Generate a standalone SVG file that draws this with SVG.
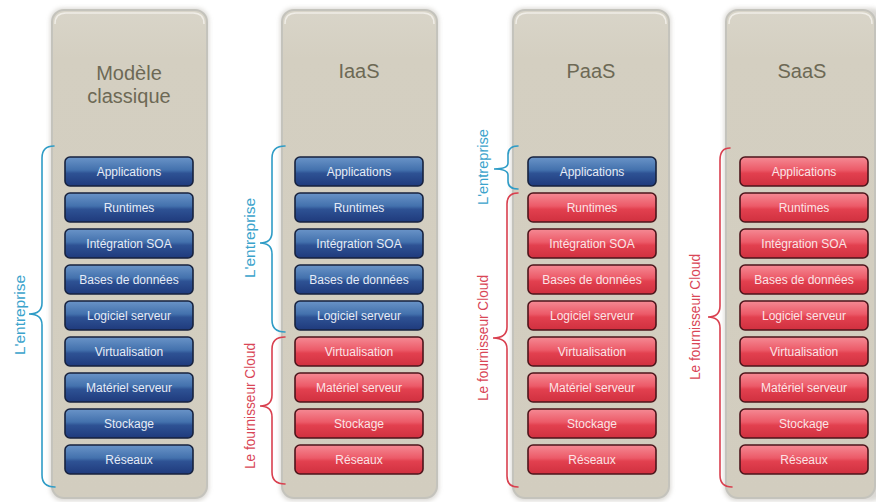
<svg xmlns="http://www.w3.org/2000/svg" xmlns:xlink="http://www.w3.org/1999/xlink" width="876" height="502" viewBox="0 0 876 502">
  <defs>
    <linearGradient id="gBlue" x1="0" y1="0" x2="0" y2="1">
      <stop offset="0" stop-color="#6a94c8"/>
      <stop offset="0.45" stop-color="#4371ad"/>
      <stop offset="0.56" stop-color="#2e5294"/>
      <stop offset="1" stop-color="#1f3a7c"/>
    </linearGradient>
    <linearGradient id="gRed" x1="0" y1="0" x2="0" y2="1">
      <stop offset="0" stop-color="#f58a94"/>
      <stop offset="0.45" stop-color="#ec5a68"/>
      <stop offset="0.56" stop-color="#e2404f"/>
      <stop offset="1" stop-color="#d0303f"/>
    </linearGradient>
    <linearGradient id="gPanel" x1="0" y1="0" x2="0" y2="1">
      <stop offset="0" stop-color="#d9d5c9"/>
      <stop offset="0.1" stop-color="#d4cfc1"/>
      <stop offset="1" stop-color="#d2cdbf"/>
    </linearGradient>
    <filter id="soft" x="-10%" y="-5%" width="120%" height="110%">
      <feGaussianBlur stdDeviation="2"/>
    </filter>
    <rect id="boxBlue" width="128" height="29" rx="5" fill="url(#gBlue)" stroke="#17223e" stroke-width="1.6"/>
    <rect id="boxRed" width="128" height="29" rx="5" fill="url(#gRed)" stroke="#4c151b" stroke-width="1.6"/>
  </defs>
  <style>
    .panel { fill: url(#gPanel); stroke: #c4c3bc; stroke-width: 2; }
    .shadow { fill: #bdbab2; opacity: 0.55; filter: url(#soft); }
    .rim { fill: none; stroke: #f2f0ea; stroke-width: 1.5; opacity: 0.9; }
    .head { font-family: "Liberation Sans", Arial, sans-serif; font-size: 20px; fill: #6d6955; text-anchor: middle; }
    .lbl { font-family: "Liberation Sans", Arial, sans-serif; font-size: 12px; text-anchor: middle; }
    .b .lbl { fill: #e6ecf6; }
    .r .lbl { fill: #fbe4e6; }
    .brace { fill: none; stroke-width: 1.6; stroke-linecap: round; }
    .bb { stroke: #2f9cc6; }
    .br { stroke: #d9404f; }
    .side { font-family: "Liberation Sans", Arial, sans-serif; font-size: 14px; text-anchor: middle; }
    .sb { fill: #3aa3cc; }
    .sr { fill: #d94656; }
  </style>

  <rect width="876" height="502" fill="#ffffff"/>

  <!-- column panels -->
  <g id="panels">
    <rect class="shadow" x="50" y="8" width="159" height="493" rx="13"/>
    <rect class="shadow" x="280" y="8" width="159" height="493" rx="13"/>
    <rect class="shadow" x="511" y="8" width="160" height="493" rx="13"/>
    <rect class="shadow" x="724" y="8" width="160" height="493" rx="13"/>
    <rect class="panel" x="52" y="10" width="155" height="488" rx="12"/>
    <rect class="panel" x="282" y="10" width="155" height="488" rx="12"/>
    <rect class="panel" x="513" y="10" width="156" height="488" rx="12"/>
    <rect class="panel" x="726" y="10" width="149" height="488" rx="12"/>
    <path class="rim" d="M55,24 Q55,13 66,13 L193,13 Q204,13 204,24"/>
    <path class="rim" d="M285,24 Q285,13 296,13 L423,13 Q434,13 434,24"/>
    <path class="rim" d="M516,24 Q516,13 527,13 L655,13 Q666,13 666,24"/>
    <path class="rim" d="M729,24 Q729,13 740,13 L861,13 Q872,13 872,24"/>
  </g>

  <!-- column headers -->
  <g id="headers">
    <text class="head" x="129" y="80">Modèle</text>
    <text class="head" x="129" y="103">classique</text>
    <text class="head" x="359" y="78">IaaS</text>
    <text class="head" x="591" y="78">PaaS</text>
    <text class="head" x="802" y="78">SaaS</text>
  </g>

  <!-- Modèle classique -->
  <g id="classique">
    <g id="c1-applications" class="b"><use xlink:href="#boxBlue" x="65" y="157"/><text class="lbl" x="129" y="176">Applications</text></g>
    <g id="c1-runtimes" class="b"><use xlink:href="#boxBlue" x="65" y="193"/><text class="lbl" x="129" y="212">Runtimes</text></g>
    <g id="c1-soa" class="b"><use xlink:href="#boxBlue" x="65" y="229"/><text class="lbl" x="129" y="248">Intégration SOA</text></g>
    <g id="c1-bdd" class="b"><use xlink:href="#boxBlue" x="65" y="265"/><text class="lbl" x="129" y="284">Bases de données</text></g>
    <g id="c1-logiciel" class="b"><use xlink:href="#boxBlue" x="65" y="301"/><text class="lbl" x="129" y="320">Logiciel serveur</text></g>
    <g id="c1-virt" class="b"><use xlink:href="#boxBlue" x="65" y="337"/><text class="lbl" x="129" y="356">Virtualisation</text></g>
    <g id="c1-materiel" class="b"><use xlink:href="#boxBlue" x="65" y="373"/><text class="lbl" x="129" y="392">Matériel serveur</text></g>
    <g id="c1-stockage" class="b"><use xlink:href="#boxBlue" x="65" y="409"/><text class="lbl" x="129" y="428">Stockage</text></g>
    <g id="c1-reseaux" class="b"><use xlink:href="#boxBlue" x="65" y="445"/><text class="lbl" x="129" y="464">Réseaux</text></g>
  </g>

  <!-- IaaS -->
  <g id="iaas">
    <g id="c2-applications" class="b"><use xlink:href="#boxBlue" x="295" y="157"/><text class="lbl" x="359" y="176">Applications</text></g>
    <g id="c2-runtimes" class="b"><use xlink:href="#boxBlue" x="295" y="193"/><text class="lbl" x="359" y="212">Runtimes</text></g>
    <g id="c2-soa" class="b"><use xlink:href="#boxBlue" x="295" y="229"/><text class="lbl" x="359" y="248">Intégration SOA</text></g>
    <g id="c2-bdd" class="b"><use xlink:href="#boxBlue" x="295" y="265"/><text class="lbl" x="359" y="284">Bases de données</text></g>
    <g id="c2-logiciel" class="b"><use xlink:href="#boxBlue" x="295" y="301"/><text class="lbl" x="359" y="320">Logiciel serveur</text></g>
    <g id="c2-virt" class="r"><use xlink:href="#boxRed" x="295" y="337"/><text class="lbl" x="359" y="356">Virtualisation</text></g>
    <g id="c2-materiel" class="r"><use xlink:href="#boxRed" x="295" y="373"/><text class="lbl" x="359" y="392">Matériel serveur</text></g>
    <g id="c2-stockage" class="r"><use xlink:href="#boxRed" x="295" y="409"/><text class="lbl" x="359" y="428">Stockage</text></g>
    <g id="c2-reseaux" class="r"><use xlink:href="#boxRed" x="295" y="445"/><text class="lbl" x="359" y="464">Réseaux</text></g>
  </g>

  <!-- PaaS -->
  <g id="paas">
    <g id="c3-applications" class="b"><use xlink:href="#boxBlue" x="528" y="157"/><text class="lbl" x="592" y="176">Applications</text></g>
    <g id="c3-runtimes" class="r"><use xlink:href="#boxRed" x="528" y="193"/><text class="lbl" x="592" y="212">Runtimes</text></g>
    <g id="c3-soa" class="r"><use xlink:href="#boxRed" x="528" y="229"/><text class="lbl" x="592" y="248">Intégration SOA</text></g>
    <g id="c3-bdd" class="r"><use xlink:href="#boxRed" x="528" y="265"/><text class="lbl" x="592" y="284">Bases de données</text></g>
    <g id="c3-logiciel" class="r"><use xlink:href="#boxRed" x="528" y="301"/><text class="lbl" x="592" y="320">Logiciel serveur</text></g>
    <g id="c3-virt" class="r"><use xlink:href="#boxRed" x="528" y="337"/><text class="lbl" x="592" y="356">Virtualisation</text></g>
    <g id="c3-materiel" class="r"><use xlink:href="#boxRed" x="528" y="373"/><text class="lbl" x="592" y="392">Matériel serveur</text></g>
    <g id="c3-stockage" class="r"><use xlink:href="#boxRed" x="528" y="409"/><text class="lbl" x="592" y="428">Stockage</text></g>
    <g id="c3-reseaux" class="r"><use xlink:href="#boxRed" x="528" y="445"/><text class="lbl" x="592" y="464">Réseaux</text></g>
  </g>

  <!-- SaaS -->
  <g id="saas">
    <g id="c4-applications" class="r"><use xlink:href="#boxRed" x="740" y="157"/><text class="lbl" x="804" y="176">Applications</text></g>
    <g id="c4-runtimes" class="r"><use xlink:href="#boxRed" x="740" y="193"/><text class="lbl" x="804" y="212">Runtimes</text></g>
    <g id="c4-soa" class="r"><use xlink:href="#boxRed" x="740" y="229"/><text class="lbl" x="804" y="248">Intégration SOA</text></g>
    <g id="c4-bdd" class="r"><use xlink:href="#boxRed" x="740" y="265"/><text class="lbl" x="804" y="284">Bases de données</text></g>
    <g id="c4-logiciel" class="r"><use xlink:href="#boxRed" x="740" y="301"/><text class="lbl" x="804" y="320">Logiciel serveur</text></g>
    <g id="c4-virt" class="r"><use xlink:href="#boxRed" x="740" y="337"/><text class="lbl" x="804" y="356">Virtualisation</text></g>
    <g id="c4-materiel" class="r"><use xlink:href="#boxRed" x="740" y="373"/><text class="lbl" x="804" y="392">Matériel serveur</text></g>
    <g id="c4-stockage" class="r"><use xlink:href="#boxRed" x="740" y="409"/><text class="lbl" x="804" y="428">Stockage</text></g>
    <g id="c4-reseaux" class="r"><use xlink:href="#boxRed" x="740" y="445"/><text class="lbl" x="804" y="464">Réseaux</text></g>
  </g>

  <!-- braces grouping the layers by who manages them -->
  <g id="braces">
    <path class="brace bb" d="M54,146 Q42,146 42,158 L42,303 Q42,314 29,314 Q42,314 42,325 L42,475 Q42,487 55,487"/>
    <path class="brace bb" d="M285,146 Q272,146 272,158 L272,232 Q272,243 260,243 Q272,243 272,254 L272,320 Q272,332 285,332"/>
    <path class="brace br" d="M285,337 Q272,337 272,349 L272,395 Q272,406 260,406 Q272,406 272,417 L272,472 Q272,484 285,484"/>
    <path class="brace bb" d="M518,146 Q508,146 508,155 L508,163 Q508,169 494,169 Q508,169 508,175 L508,181 Q508,189 518,189"/>
    <path class="brace br" d="M518,193 Q507,193 507,204 L507,327 Q507,338 493,338 Q507,338 507,349 L507,476 Q507,487 518,487"/>
    <path class="brace br" d="M730,148 Q720,148 720,160 L720,306 Q720,317 708,317 Q720,317 720,328 L720,475 Q720,487 732,487"/>
  </g>

  <!-- brace captions -->
  <g id="captions">
    <text class="side sb" transform="translate(25 315) rotate(-90)" textLength="80" lengthAdjust="spacingAndGlyphs">L'entreprise</text>
    <text class="side sb" transform="translate(255 238) rotate(-90)" textLength="80" lengthAdjust="spacingAndGlyphs">L'entreprise</text>
    <text class="side sr" transform="translate(255 406) rotate(-90)" textLength="126" lengthAdjust="spacingAndGlyphs">Le fournisseur Cloud</text>
    <text class="side sb" transform="translate(488 167) rotate(-90)" textLength="76" lengthAdjust="spacingAndGlyphs">L'entreprise</text>
    <text class="side sr" transform="translate(488 338) rotate(-90)" textLength="126" lengthAdjust="spacingAndGlyphs">Le fournisseur Cloud</text>
    <text class="side sr" transform="translate(700 317) rotate(-90)" textLength="126" lengthAdjust="spacingAndGlyphs">Le fournisseur Cloud</text>
  </g>
</svg>
